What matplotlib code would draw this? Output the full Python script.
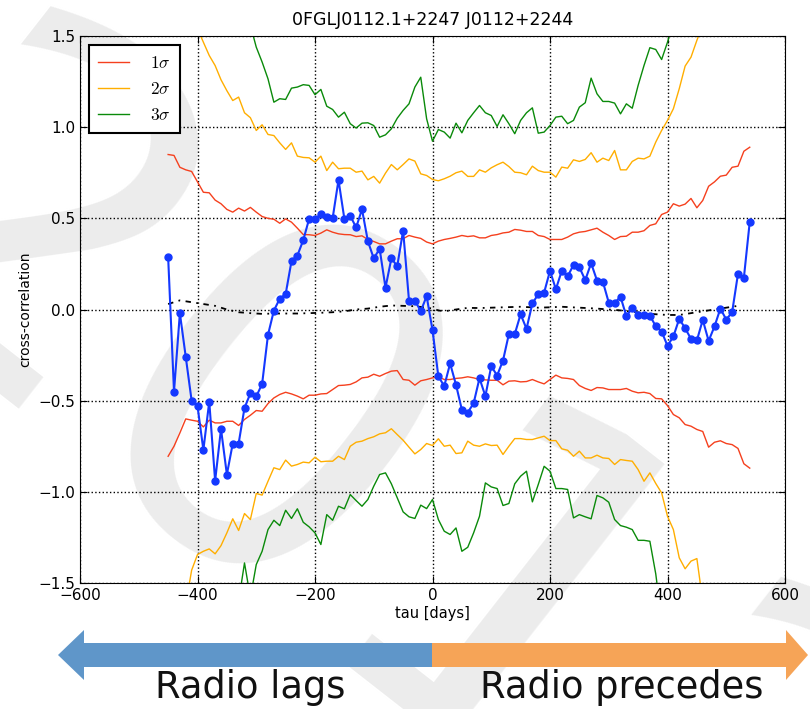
import matplotlib.pyplot as plt
from matplotlib.patches import FancyArrow

plt.rcParams['mathtext.fontset'] = 'cm'

# cross-correlation of the radio and gamma light curves, 10 day lag steps
tau_xc = list(range(-450, 550, 10))
xcorr = [0.29, -0.45, -0.02, -0.26, -0.50, -0.53, -0.77, -0.505, -0.94, -0.655,
         -0.905, -0.735, -0.735, -0.54, -0.46, -0.477, -0.408, -0.139, -0.006, 0.059,
         0.084, 0.265, 0.296, 0.38, 0.497, 0.494, 0.525, 0.51, 0.50, 0.71,
         0.497, 0.514, 0.45, 0.549, 0.375, 0.28, 0.333, 0.12, 0.28, 0.238,
         0.433, 0.049, 0.049, -0.009, 0.073, -0.113, -0.367, -0.42, -0.296, -0.413,
         -0.55, -0.565, -0.514, -0.377, -0.475, -0.311, -0.362, -0.28, -0.135, -0.135,
         -0.026, -0.106, 0.033, 0.084, 0.093, 0.212, 0.111, 0.212, 0.181, 0.245,
         0.232, 0.161, 0.254, 0.159, 0.152, 0.038, 0.035, 0.07, -0.037, 0.009,
         -0.031, -0.029, -0.033, -0.092, -0.121, -0.199, -0.148, -0.051, -0.103, -0.161,
         -0.17, -0.057, -0.172, -0.093, 0.005, -0.055, -0.015, 0.196, 0.174, 0.481]

# significance levels from simulated light curves
sig1_hi = [0.85, 0.845, 0.78, 0.766, 0.757, 0.70, 0.643, 0.64, 0.60, 0.58,
           0.549, 0.534, 0.556, 0.54, 0.56, 0.534, 0.51, 0.50, 0.495, 0.473,
           0.497, 0.479, 0.446, 0.411, 0.41, 0.406, 0.419, 0.437, 0.424, 0.415,
           0.411, 0.41, 0.40, 0.404, 0.384, 0.373, 0.36, 0.36, 0.375, 0.388,
           0.388, 0.406, 0.397, 0.39, 0.37, 0.36, 0.375, 0.384, 0.39, 0.397,
           0.406, 0.40, 0.404, 0.393, 0.393, 0.406, 0.411, 0.42, 0.424, 0.439,
           0.435, 0.428, 0.428, 0.406, 0.40, 0.384, 0.384, 0.384, 0.397, 0.415,
           0.424, 0.428, 0.437, 0.446, 0.424, 0.406, 0.384, 0.40, 0.402, 0.424,
           0.424, 0.432, 0.461, 0.47, 0.521, 0.534, 0.58, 0.567, 0.578, 0.609,
           0.558, 0.598, 0.676, 0.70, 0.731, 0.737, 0.78, 0.786, 0.868, 0.89]
sig1_lo = [-0.805, -0.75, -0.677, -0.60, -0.607, -0.613, -0.644, -0.607, -0.622, -0.622,
           -0.613, -0.613, -0.636, -0.603, -0.58, -0.554, -0.558, -0.516, -0.485, -0.466,
           -0.454, -0.463, -0.475, -0.49, -0.47, -0.47, -0.463, -0.461, -0.439, -0.417,
           -0.415, -0.411, -0.397, -0.375, -0.371, -0.355, -0.366, -0.351, -0.338, -0.335,
           -0.384, -0.388, -0.415, -0.391, -0.384, -0.375, -0.369, -0.384, -0.384, -0.378,
           -0.375, -0.369, -0.375, -0.384, -0.386, -0.388, -0.388, -0.413, -0.393, -0.391,
           -0.397, -0.395, -0.384, -0.397, -0.408, -0.384, -0.36, -0.375, -0.378, -0.384,
           -0.417, -0.433, -0.444, -0.428, -0.43, -0.439, -0.439, -0.439, -0.433, -0.448,
           -0.457, -0.454, -0.461, -0.488, -0.49, -0.527, -0.576, -0.594, -0.631, -0.64,
           -0.658, -0.669, -0.755, -0.728, -0.72, -0.735, -0.741, -0.762, -0.846, -0.87]

tau_sig2_hi = list(range(-400, 470, 10))
sig2_hi = [1.54, 1.466, 1.393, 1.338, 1.26, 1.20, 1.146, 1.165, 1.079, 1.052,
           0.982, 1.013, 0.96, 0.954, 0.914, 0.878, 0.914, 0.841, 0.834, 0.832,
           0.808, 0.841, 0.762, 0.808, 0.772, 0.775, 0.775, 0.753, 0.759, 0.711,
           0.73, 0.693, 0.748, 0.795, 0.766, 0.795, 0.826, 0.814, 0.744, 0.735,
           0.713, 0.706, 0.717, 0.731, 0.75, 0.759, 0.73, 0.73, 0.766, 0.753,
           0.777, 0.794, 0.808, 0.784, 0.753, 0.75, 0.739, 0.786, 0.762, 0.753,
           0.753, 0.726, 0.781, 0.775, 0.821, 0.812, 0.823, 0.86, 0.808, 0.83,
           0.817, 0.872, 0.766, 0.766, 0.812, 0.83, 0.826, 0.841, 0.918, 0.982,
           1.037, 1.101, 1.211, 1.335, 1.384, 1.476, 1.56]
tau_sig2_lo = list(range(-420, 470, 10))
sig2_lo = [-1.62, -1.43, -1.344, -1.326, -1.313, -1.34, -1.295, -1.225, -1.148, -1.212,
           -1.119, -1.152, -1.009, -1.018, -0.942, -0.868, -0.878, -0.826, -0.859, -0.85,
           -0.837, -0.841, -0.81, -0.835, -0.832, -0.832, -0.805, -0.823, -0.75, -0.728,
           -0.722, -0.708, -0.698, -0.682, -0.676, -0.654, -0.686, -0.717, -0.755, -0.792,
           -0.768, -0.735, -0.746, -0.709, -0.75, -0.744, -0.79, -0.786, -0.722, -0.744,
           -0.75, -0.737, -0.746, -0.744, -0.795, -0.75, -0.708, -0.708, -0.713, -0.713,
           -0.704, -0.695, -0.719, -0.719, -0.764, -0.772, -0.805, -0.777, -0.814, -0.814,
           -0.799, -0.814, -0.817, -0.85, -0.823, -0.828, -0.832, -0.878, -0.942, -0.896,
           -0.954, -1.006, -1.134, -1.207, -1.362, -1.422, -1.38, -1.366, -1.60]

tau_sig3_hi = list(range(-310, 420, 10))
sig3_hi = [1.56, 1.439, 1.357, 1.265, 1.137, 1.156, 1.152, 1.214, 1.22, 1.233,
           1.229, 1.178, 1.207, 1.115, 1.097, 1.055, 1.082, 1.019, 0.995, 1.022,
           1.024, 1.009, 0.945, 0.958, 0.991, 1.049, 1.092, 1.128, 1.22, 1.274,
           1.046, 0.923, 0.987, 0.973, 0.94, 1.022, 0.969, 1.037, 1.079, 1.119,
           1.079, 1.064, 1.004, 1.068, 1.019, 0.964, 1.037, 1.079, 1.106, 0.967,
           0.973, 1.009, 1.055, 1.06, 1.019, 1.037, 1.11, 1.134, 1.269, 1.183,
           1.141, 1.141, 1.132, 1.073, 1.128, 1.104, 1.229, 1.338, 1.436, 1.426,
           1.371, 1.466, 1.58]
tau_sig3_lo = list(range(-330, 400, 10))
sig3_lo = [-1.6, -1.39, -1.58, -1.399, -1.326, -1.207, -1.156, -1.185, -1.101, -1.146,
           -1.093, -1.167, -1.192, -1.225, -1.289, -1.125, -1.156, -1.079, -1.093, -1.015,
           -1.048, -1.079, -1.042, -0.969, -0.905, -0.896, -0.956, -1.033, -1.11, -1.137,
           -1.146, -1.073, -1.092, -1.042, -1.152, -1.216, -1.234, -1.198, -1.326, -1.304,
           -1.225, -1.134, -0.951, -0.973, -0.982, -1.075, -1.064, -0.956, -0.914, -0.887,
           -1.055, -0.96, -0.86, -0.887, -0.982, -0.982, -0.987, -1.143, -1.125, -1.137,
           -1.148, -1.02, -1.033, -1.057, -1.152, -1.185, -1.194, -1.207, -1.266, -1.266,
           -1.271, -1.45, -1.7]

# mean of the simulated correlations
tau_mean = [-450, -430, -410, -390, -370, -350, -330, -310, -290, -270, -250, -230,
            -210, -190, -170, -150, -130, -110, -90, -70, -50, -30, -10, 0, 10, 20,
            40, 60, 80, 100, 120, 150, 180, 200, 220, 250, 280, 300, 320, 340, 370,
            400, 420, 440, 460, 480, 500, 520]
mean_cc = [0.03, 0.05, 0.04, 0.03, 0.02, 0.0, -0.015, -0.02, -0.024, -0.022, -0.022, -0.022,
           -0.02, -0.018, -0.015, -0.01, 0.0, 0.005, 0.015, 0.022, 0.02, 0.018, 0.01, 0.005,
           -0.005, -0.01, 0.0, 0.009, 0.008, 0.01, 0.012, 0.015, 0.01, 0.012, 0.015, 0.01,
           0.005, 0.0, -0.005, -0.012, -0.024, -0.03, -0.03, -0.02, -0.01, 0.0, 0.01, 0.02]

W, H = 810, 709
fig = plt.figure(figsize=(W / 100, H / 100), dpi=100)

# background layer in pixel units: watermark, arrows and captions
bg = fig.add_axes([0, 0, 1, 1], zorder=0)
bg.set_xlim(0, W)
bg.set_ylim(H, 0)
bg.axis('off')
bg.text(375, 545, '2012', fontsize=350, color='#ececec', rotation=-38,
        ha='center', va='center', rotation_mode='anchor', zorder=0)
bg.add_patch(FancyArrow(432, 655, -374, 0, width=24, head_width=50, head_length=26,
                        length_includes_head=True, color='#5f96c9', lw=0, zorder=2))
bg.add_patch(FancyArrow(432, 655, 376, 0, width=24, head_width=50, head_length=22,
                        length_includes_head=True, color='#f6a457', lw=0, zorder=2,
                        clip_on=False))
bg.text(250, 698, 'Radio lags', fontsize=26.5, ha='center', va='baseline',
        color='#111111', zorder=3)
bg.text(622, 698, 'Radio precedes', fontsize=26.5, ha='center', va='baseline',
        color='#111111', zorder=3)

ax = fig.add_axes([80 / W, 1 - 583 / H, 705 / W, 547 / H], zorder=1)
ax.patch.set_alpha(0)

ax.plot(tau_xc, sig1_hi, color='#f5401e', lw=1, label=r'$1\sigma$')
ax.plot(tau_sig2_hi, sig2_hi, color='#ffae00', lw=1, label=r'$2\sigma$')
ax.plot(tau_sig3_hi, sig3_hi, color='#0a8a0a', lw=1, label=r'$3\sigma$')
ax.plot(tau_xc, sig1_lo, color='#f5401e', lw=1)
ax.plot(tau_sig2_lo, sig2_lo, color='#ffae00', lw=1)
ax.plot(tau_sig3_lo, sig3_lo, color='#0a8a0a', lw=1)
ax.plot(tau_mean, mean_cc, color='k', lw=1.3, linestyle=(0, (3, 3, 1, 3)))
ax.plot(tau_xc, xcorr, 'o-', color='#1438ff', lw=1.5, ms=5)

ax.set_xlim(-600, 600)
ax.set_ylim(-1.5, 1.5)
ax.set_xticks([-600, -400, -200, 0, 200, 400, 600])
ax.set_yticks([-1.5, -1.0, -0.5, 0.0, 0.5, 1.0, 1.5])
ax.tick_params(direction='in', top=True, right=True, labelsize=11, length=5)
ax.grid(True, color='k', linestyle=':', lw=1)
ax.set_xlabel('tau [days]', fontsize=10.5, labelpad=2)
ax.set_ylabel('cross-correlation', fontsize=10)
ax.set_title('0FGLJ0112.1+2247 J0112+2244', fontsize=12.5, pad=8)

leg = ax.legend(loc='upper left', fontsize=12.5, fancybox=False, framealpha=1,
                edgecolor='k', handlelength=1.8, handletextpad=1.2,
                labelspacing=0.45, borderpad=0.55)
leg.get_frame().set_linewidth(1.5)

fig.savefig('out.png', dpi=100, facecolor='white')
